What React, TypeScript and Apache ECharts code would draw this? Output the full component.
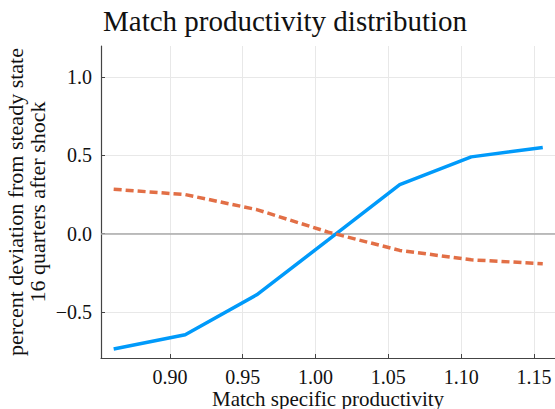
import React, { useEffect, useRef } from "react";
import * as echarts from "echarts";

const productivity = [0.8614, 0.9105, 0.9596, 1.0087, 1.0578, 1.1069, 1.156];
const seriesBlue = [-0.737, -0.646, -0.391, -0.04, 0.314, 0.491, 0.551];
const seriesOrange = [0.284, 0.25, 0.154, 0.01, -0.107, -0.167, -0.192];
const xTicks = [0.9, 0.95, 1.0, 1.05, 1.1, 1.15];
const yTicks = [-0.5, 0.0, 0.5, 1.0];

const FONT = "'Liberation Serif', 'Times New Roman', serif";

export default function App() {
  const ref = useRef<HTMLDivElement>(null);
  useEffect(() => {
    if (!ref.current) return;
    const chart = echarts.init(ref.current, null, { renderer: "svg" });
    const blue = productivity.map((x, i) => [x, seriesBlue[i]]);
    const orange = productivity.map((x, i) => [x, seriesOrange[i]]);
    chart.setOption({
      animation: false,
      backgroundColor: "#ffffff",
      textStyle: { fontFamily: FONT },
      title: {
        text: "Match productivity distribution",
        left: 98,
        top: 1,
        textStyle: { fontFamily: FONT, fontSize: 29, fontWeight: "normal", color: "#111" },
      },
      grid: {
        left: 101,
        top: 46,
        right: 0,
        bottom: 51,
        containLabel: false,
        outerBoundsMode: "none",
      },
      xAxis: {
        type: "value",
        min: 0.8527,
        max: 1.1644,
        name: "Match specific productivity",
        nameLocation: "middle",
        nameGap: 30,
        nameMoveOverlap: false,
        nameTextStyle: { fontFamily: FONT, fontSize: 21, color: "#111", verticalAlign: "top", lineHeight: 21 },
        axisLine: { onZero: false, lineStyle: { color: "#444", width: 1.2 } },
        axisTick: { inside: true, length: 4, customValues: xTicks, lineStyle: { color: "#444" } },
        axisLabel: {
          customValues: xTicks,
          margin: 9,
          fontFamily: FONT,
          fontSize: 20,
          lineHeight: 20,
          color: "#111",
          formatter: (v: number) => v.toFixed(2),
        },
        splitLine: { show: true, lineStyle: { color: "#e8e8e8", width: 1 } },
      },
      yAxis: {
        type: "value",
        min: -0.795,
        max: 1.2,
        name: "percent deviation from steady state\n16 quarters after shock",
        nameLocation: "middle",
        nameRotate: 90,
        nameGap: 53,
        nameMoveOverlap: false,
        nameTextStyle: { fontFamily: FONT, fontSize: 22, color: "#111", lineHeight: 22 },
        axisLine: { show: true, onZero: false, lineStyle: { color: "#444", width: 1.2 } },
        axisTick: { show: true, inside: true, length: 4, customValues: yTicks, lineStyle: { color: "#444" } },
        axisLabel: {
          customValues: yTicks,
          margin: 9,
          fontFamily: FONT,
          fontSize: 20,
          color: "#111",
          formatter: (v: number) => v.toFixed(1).replace("-", "\u2212"),
        },
        splitLine: { show: true, lineStyle: { color: "#e8e8e8", width: 1 } },
      },
      series: [
        {
          type: "line",
          data: blue,
          symbol: "none",
          lineStyle: { color: "#009AFA", width: 3.5 },
          z: 3,
          markLine: {
            silent: true,
            symbol: "none",
            label: { show: false },
            lineStyle: { color: "#aaaaaa", width: 1.5, type: "solid" },
            data: [{ yAxis: 0 }],
            z: 1,
          },
        },
        {
          type: "line",
          data: orange,
          symbol: "none",
          lineStyle: { color: "#E26F46", width: 3.5, type: [8, 4] },
          z: 3,
        },
      ],
    });
    return () => chart.dispose();
  }, []);
  return (
    <div
      ref={ref}
      style={{ position: "absolute", left: 0, top: 0, width: 555, height: 409 }}
    />
  );
}
